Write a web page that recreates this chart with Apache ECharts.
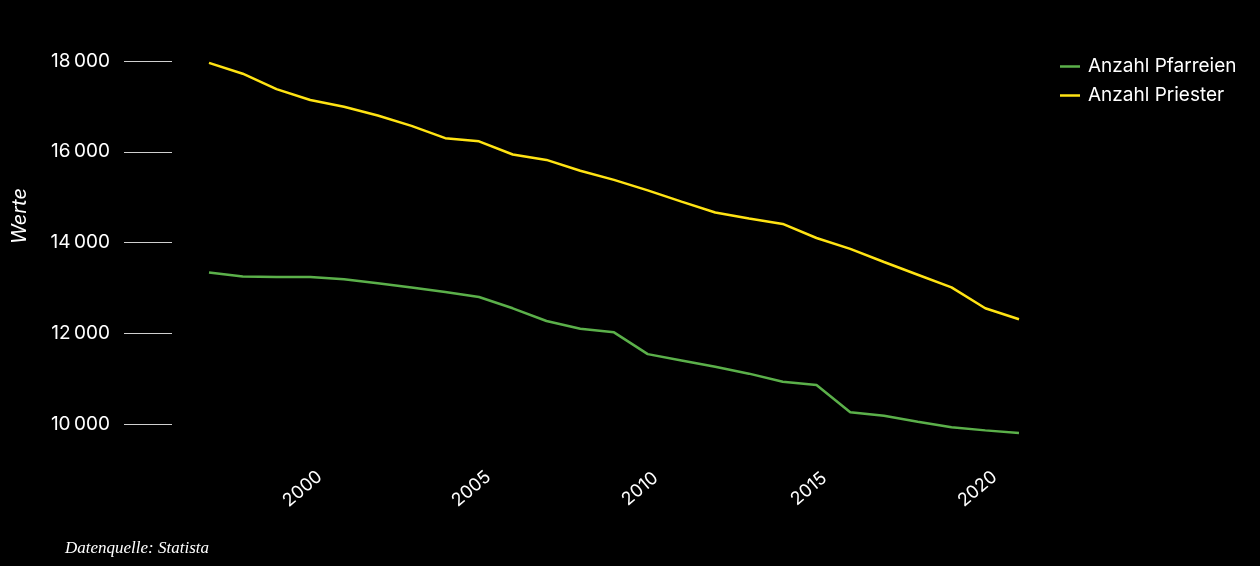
<!DOCTYPE html>
<html>
<head>
<meta charset="utf-8">
<title>Anzahl Pfarreien und Priester</title>
<script src="https://cdn.jsdelivr.net/npm/echarts@6/dist/echarts.min.js"></script>
<style>
  html, body { margin: 0; padding: 0; background: #000; }
  #chart { width: 1260px; height: 566px; }
</style>
</head>
<body>
<div id="chart"></div>
<script>
// Jahre
const years = ['1997', '1998', '1999', '2000', '2001', '2002', '2003', '2004', '2005',
  '2006', '2007', '2008', '2009', '2010', '2011', '2012', '2013', '2014', '2015',
  '2016', '2017', '2018', '2019', '2020', '2021'];

// Anzahl Pfarreien
const pfarreien = [13340, 13250, 13240, 13240, 13190, 13100, 13010, 12910, 12800,
  12550, 12270, 12100, 12020, 11540, 11400, 11260, 11110, 10930, 10860,
  10260, 10180, 10050, 9930, 9860, 9800];

// Anzahl Priester
const priester = [17960, 17720, 17380, 17140, 16990, 16800, 16570, 16300, 16230,
  15940, 15820, 15580, 15380, 15150, 14900, 14660, 14530, 14410, 14100,
  13860, 13570, 13290, 13010, 12550, 12310];

// Beschriftete Werte der y-Achse
const yTicks = [10000, 12000, 14000, 16000, 18000];

const FONT = 'Inter, "Noto Sans", sans-serif';

function formatThousands(v) {
  const s = String(Math.round(v));
  return s.replace(/\B(?=(\d{3})+(?!\d))/g, '\u202F');
}

const chart = echarts.init(document.getElementById('chart'), null, { renderer: 'canvas' });

chart.setOption({
  backgroundColor: '#000000',
  animation: false,
  grid: { left: 209, right: 241, top: 61, bottom: 96.6, containLabel: false },
  legend: {
    orient: 'vertical',
    left: 1055,
    top: 52,
    itemWidth: 20,
    itemHeight: 14,
    itemGap: 10,
    icon: 'path://M0,0 L20,0 L20,2.5 L0,2.5 Z',
    textStyle: { color: '#ffffff', fontSize: 19, fontFamily: FONT, padding: [0, 0, 0, 3] },
    data: ['Anzahl Pfarreien', 'Anzahl Priester']
  },
  graphic: [
    {
      type: 'text',
      x: 20,
      y: 216,
      rotation: Math.PI / 2,
      style: {
        text: 'Werte',
        fill: '#ffffff',
        font: 'italic 20px ' + FONT,
        align: 'center',
        verticalAlign: 'middle'
      }
    },
    {
      type: 'text',
      left: 65,
      top: 540,
      style: {
        text: 'Datenquelle: Statista',
        fill: '#ffffff',
        font: 'italic 17px "Liberation Serif", "DejaVu Serif", serif'
      }
    }
  ],
  xAxis: {
    type: 'category',
    data: years,
    boundaryGap: false,
    axisLine: { show: false },
    axisTick: { show: false },
    splitLine: { show: false },
    axisLabel: {
      interval: function (idx, val) { return Number(val) % 5 === 0; },
      rotate: 40,
      align: 'center',
      verticalAlign: 'middle',
      padding: [0, 20, 0, 0],
      margin: 13,
      color: '#ffffff',
      fontSize: 18,
      fontFamily: FONT
    }
  },
  yAxis: {
    type: 'value',
    min: 9000,
    max: 18000,
    offset: 37,
    axisLine: { show: false },
    splitLine: { show: false },
    axisTick: {
      show: true,
      customValues: yTicks,
      length: 48,
      lineStyle: { color: '#d0d0d0', width: 1 }
    },
    axisLabel: {
      customValues: yTicks,
      margin: 62,
      color: '#ffffff',
      fontSize: 19,
      fontFamily: FONT,
      formatter: formatThousands
    }
  },
  series: [
    {
      name: 'Anzahl Pfarreien',
      type: 'line',
      data: pfarreien,
      symbol: 'none',
      lineStyle: { color: '#5bb04a', width: 2.5 },
      itemStyle: { color: '#5bb04a' }
    },
    {
      name: 'Anzahl Priester',
      type: 'line',
      data: priester,
      symbol: 'none',
      lineStyle: { color: '#ffe313', width: 2.5 },
      itemStyle: { color: '#ffe313' }
    }
  ]
});
</script>
</body>
</html>
